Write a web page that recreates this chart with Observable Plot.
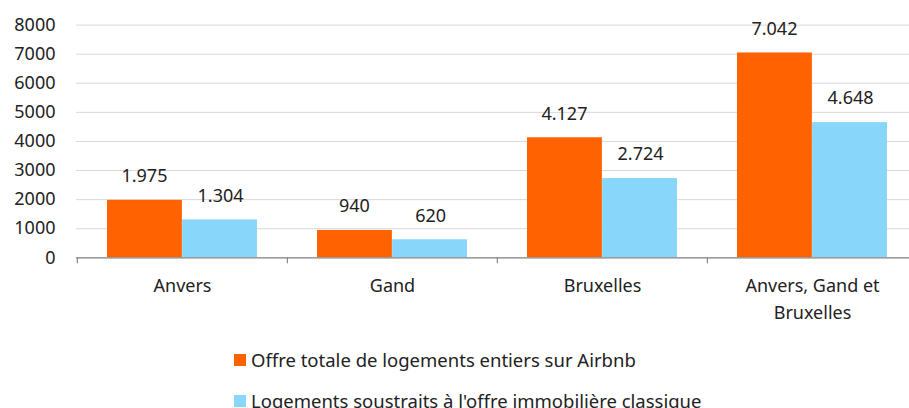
<!DOCTYPE html>
<html><head><meta charset="utf-8">
<script src="https://cdn.jsdelivr.net/npm/d3@7"></script>
<script src="https://cdn.jsdelivr.net/npm/@observablehq/plot@0.6"></script>
<style>
body{margin:0;background:#fff;font-family:"Noto Sans",sans-serif;}
#wrap{position:relative;width:909px;height:408px;overflow:hidden;}
.leg{position:absolute;left:234px;font-size:18.5px;color:#222;display:flex;align-items:center;white-space:nowrap;}
.sw{width:12px;height:12px;margin-right:5px;display:inline-block;}
</style></head>
<body><div id="wrap"><div id="chart"></div>
<div class="leg" style="top:347px"><span class="sw" style="background:#ff6200"></span>Offre totale de logements entiers sur Airbnb</div>
<div class="leg" style="top:388px"><span class="sw" style="background:#89d6fb"></span>Logements soustraits à l'offre immobilière classique</div>
</div>
<script>
const categories = ["Anvers", "Gand", "Bruxelles", "Anvers, Gand et Bruxelles"];
const tickLabels = ["Anvers", "Gand", "Bruxelles", "Anvers, Gand et\nBruxelles"];
const seriesNames = ["Offre totale de logements entiers sur Airbnb", "Logements soustraits à l'offre immobilière classique"];
const airbnbTotal = [1975, 940, 4127, 7042];
const withdrawn = [1304, 620, 2724, 4648];
const yTicks = [0, 1000, 2000, 3000, 4000, 5000, 6000, 7000, 8000];

const fmt = d3.formatLocale({decimal: ",", thousands: ".", grouping: [3], currency: ["", "€"]}).format(",d");
const rows1 = categories.map((c, i) => ({cat: c, v: airbnbTotal[i]}));
const rows2 = categories.map((c, i) => ({cat: c, v: withdrawn[i]}));
const x0 = 76, x1 = 917, bw = (x1 - x0) / categories.length;
const ink = "#222";

const chart = Plot.plot({
  width: 909, height: 330,
  marginLeft: 76, marginRight: 0, marginTop: 24.6, marginBottom: 72.7,
  style: {fontFamily: "Noto Sans, sans-serif", fontSize: "18px", color: ink, background: "#fff"},
  x: {type: "band", domain: categories, range: [x0, x1], padding: 0},
  y: {domain: [0, 8000]},
  marks: [
    Plot.gridY(yTicks, {stroke: "#d9d9d9", strokeOpacity: 1}),
    Plot.axisY(yTicks, {tickSize: 0, tickPadding: 21, fontSize: 18, fill: ink, label: null, tickFormat: d => String(d)}),
    Plot.barY(rows1, {x: "cat", y: "v", fill: "#ff6200", insetLeft: 30, insetRight: bw / 2}),
    Plot.barY(rows2, {x: "cat", y: "v", fill: "#89d6fb", insetLeft: bw / 2, insetRight: 30}),
    Plot.text(rows1, {x: "cat", y: "v", text: d => fmt(d.v), dx: -(bw / 2 - 30) / 2 - 0.5, dy: -24, fontSize: 18, fill: ink}),
    Plot.text(rows2, {x: "cat", y: "v", text: d => fmt(d.v), dx: (bw / 2 - 30) / 2 + 0.5, dy: -24, fontSize: 18, fill: ink}),
    Plot.ruleY([0], {stroke: "#888", strokeWidth: 1.2}),
    Plot.ruleX(categories, {x: d => d, y1: 0, y2: 0, dx: -bw / 2, insetBottom: -6, stroke: "#888", strokeWidth: 1.2}),
    Plot.axisX({tickSize: 0, tickPadding: 15, fontSize: 18, fill: ink, label: null, lineHeight: 1.5,
      tickFormat: d => tickLabels[categories.indexOf(d)]})
  ]
});
document.getElementById("chart").appendChild(chart);
</script></body></html>
